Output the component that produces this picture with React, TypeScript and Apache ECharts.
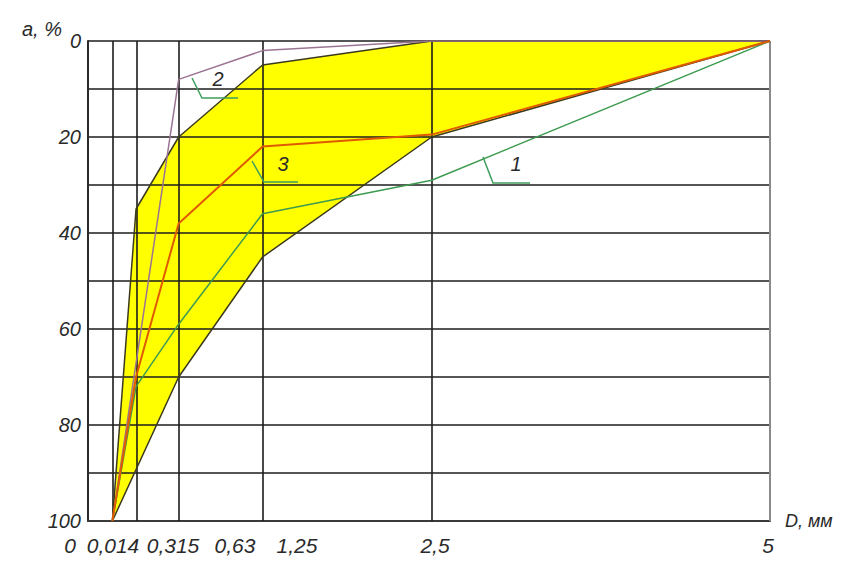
import React, { useEffect, useRef } from "react";
import * as echarts from "echarts";

// Sieve sizes (mm) where the vertical grid lines stand
const sieves = [0.14, 0.315, 0.63, 1.25, 2.5, 5];
const xTickLabels = ["0", "0,014", "0,315", "0,63", "1,25", "2,5", "5"];

// Recommended zone (yellow) — upper and lower boundaries, a, %
const zoneUpperX = [0.14, 0.315, 0.63, 1.25, 2.5, 5];
const zoneUpperY = [100, 35, 20, 5, 0, 0];
const zoneLowerX = [0.14, 0.63, 1.25, 2.5, 5];
const zoneLowerY = [100, 70, 45, 20, 0];

// Curves 1, 2, 3
const curve1X = [0.14, 0.315, 0.63, 1.25, 2.5, 5];
const curve1Y = [100, 72, 59, 36, 29, 0];
const curve2X = [0.14, 0.63, 1.25, 2.5, 5];
const curve2Y = [100, 8, 2, 0, 0];
const curve3X = [0.14, 0.315, 0.63, 1.25, 2.5, 5];
const curve3Y = [100, 70, 38, 22, 19.5, 0];

const curveLabels = ["1", "2", "3"];

// layout (pixels)
const xLabelPos = [70, 113, 173, 235, 297, 435, 768];
const FONT = '"Liberation Sans", Arial, sans-serif';

const zip = (xs: number[], ys: number[]) => xs.map((x, i) => [x, ys[i]]);

export default function App() {
  const ref = useRef<HTMLDivElement>(null);
  useEffect(() => {
    if (!ref.current) return;
    const chart = echarts.init(ref.current, null, { renderer: "svg" });
    const zonePoly = zip(zoneUpperX, zoneUpperY).concat(zip(zoneLowerX, zoneLowerY).reverse());
    const leaderColor = "#3f9d5c";
    const txt = (text: string, x: number, y: number, size: number, align = "center") => ({
      type: "text",
      x,
      y,
      z: 20,
      style: {
        text,
        font: `italic ${size}px ${FONT}`,
        fill: "#2a2a2a",
        align,
        verticalAlign: "middle",
        textAlign: align,
        textVerticalAlign: "middle",
      },
    });
    const leader = (pts: number[][]) => ({
      type: "polyline",
      z: 20,
      shape: { points: pts },
      style: { stroke: leaderColor, lineWidth: 1.5, fill: null },
    });
    chart.setOption({
      animation: false,
      backgroundColor: "#ffffff",
      grid: { left: 88, top: 41, width: 682, height: 480, containLabel: false },
      xAxis: {
        type: "value",
        min: -0.04,
        max: 5,
        z: 3,
        axisLine: { show: true, onZero: false, lineStyle: { color: "#3a3a3a", width: 2 } },
        axisTick: { show: false },
        axisLabel: { show: false },
        splitLine: { show: false },
      },
      yAxis: {
        type: "value",
        inverse: true,
        min: 0,
        max: 100,
        interval: 10,
        z: 3,
        axisLine: { show: true, onZero: false, lineStyle: { color: "#2a2a2a", width: 2 } },
        axisTick: { show: false },
        axisLabel: {
          formatter: (v: number) => (v % 20 === 0 ? String(v) : ""),
          fontStyle: "italic",
          fontSize: 20,
          fontFamily: FONT,
          color: "#2a2a2a",
          margin: 7,
        },
        splitLine: { show: true, lineStyle: { color: "#1c1c1c", width: 1.6 } },
      },
      series: [
        {
          type: "custom",
          z: 1,
          silent: true,
          data: [[0, 0]],
          renderItem: (params: any, api: any) => {
            if (params.dataIndex !== 0) return null;
            return {
              type: "polygon",
              shape: { points: zonePoly.map((p) => api.coord(p)) },
              style: { fill: "#ffff00", stroke: "none" },
            };
          },
        },
        {
          type: "line",
          z: 3,
          data: [],
          silent: true,
          markLine: {
            silent: true,
            symbol: "none",
            label: { show: false },
            animation: false,
            data: sieves.map((v, i) => ({
              xAxis: v,
              lineStyle: {
                color: i === sieves.length - 1 ? "#8a8a8a" : "#1c1c1c",
                width: i === sieves.length - 1 ? 2 : 1.6,
                type: "solid",
              },
            })),
          },
        },
        {
          name: "zoneUpper",
          type: "line",
          z: 5,
          symbol: "none",
          data: zip(zoneUpperX, zoneUpperY),
          lineStyle: { color: "#3b3a1e", width: 1.5 },
        },
        {
          name: "zoneLower",
          type: "line",
          z: 5,
          symbol: "none",
          data: zip(zoneLowerX, zoneLowerY),
          lineStyle: { color: "#3b3a1e", width: 1.5 },
        },
        {
          name: curveLabels[1],
          type: "line",
          z: 6,
          symbol: "none",
          data: zip(curve2X, curve2Y),
          lineStyle: { color: "#9c7493", width: 1.5 },
        },
        {
          name: curveLabels[0],
          type: "line",
          z: 6,
          symbol: "none",
          data: zip(curve1X, curve1Y),
          lineStyle: { color: "#3d9a4e", width: 1.5 },
        },
        {
          name: curveLabels[2],
          type: "line",
          z: 7,
          symbol: "none",
          data: zip(curve3X, curve3Y),
          lineStyle: { color: "#e05a00", width: 2 },
        },
      ],
      graphic: [
        txt("a, %", 22, 29, 20, "left"),
        txt("D, мм", 785, 521, 18, "left"),
        ...xTickLabels.map((t, i) => txt(t, xLabelPos[i], 545, 21)),
        leader([[483, 157], [493, 183], [530, 183]]),
        txt(curveLabels[0], 516, 164, 20),
        leader([[192, 78], [202, 98], [238, 98]]),
        txt(curveLabels[1], 218, 79, 20),
        leader([[252, 161], [264, 182], [298, 182]]),
        txt(curveLabels[2], 283, 164, 20),
      ],
    });
    return () => chart.dispose();
  }, []);
  return (
    <div
      ref={ref}
      style={{ position: "fixed", left: 0, top: 0, width: 841, height: 565 }}
    />
  );
}
